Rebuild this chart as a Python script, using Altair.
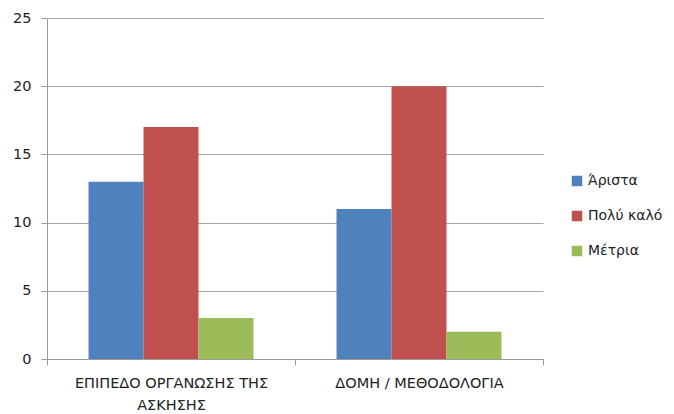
import altair as alt
import pandas as pd

categories = ["ΕΠΙΠΕΔΟ ΟΡΓΑΝΩΣΗΣ ΤΗΣ ΑΣΚΗΣΗΣ", "ΔΟΜΗ / ΜΕΘΟΔΟΛΟΓΙΑ"]
series = ["Άριστα", "Πολύ καλό", "Μέτρια"]
values = {
    "Άριστα": [13, 11],
    "Πολύ καλό": [17, 20],
    "Μέτρια": [3, 2],
}
colors = ["#4F81BD", "#C0504D", "#9BBB59"]
y_ticks = [0, 5, 10, 15, 20, 25]

rows = []
for s in series:
    for c, v in zip(categories, values[s]):
        rows.append({"cat": c, "series": s, "value": v})
df = pd.DataFrame(rows)

font = "DejaVu Sans"
label_expr = ("datum.label == 'ΕΠΙΠΕΔΟ ΟΡΓΑΝΩΣΗΣ ΤΗΣ ΑΣΚΗΣΗΣ' ? "
              "['ΕΠΙΠΕΔΟ ΟΡΓΑΝΩΣΗΣ ΤΗΣ', 'ΑΣΚΗΣΗΣ'] : datum.label")

chart = alt.Chart(df).mark_bar().encode(
    x=alt.X("cat:N", sort=categories, title=None,
            scale=alt.Scale(paddingInner=0, paddingOuter=0),
            axis=alt.Axis(labelAngle=0, labelExpr=label_expr, tickBand="extent",
                          labelFont=font, labelFontSize=14.5, labelColor="#222",
                          labelPadding=11, labelLineHeight=22, labelLimit=400,
                          domainColor="#999", tickColor="#999", tickSize=6,
                          grid=False)),
    xOffset=alt.XOffset("series:N", sort=series,
                        scale=alt.Scale(paddingInner=0, paddingOuter=0.755)),
    y=alt.Y("value:Q", title=None,
            scale=alt.Scale(domain=[0, 25], nice=False),
            axis=alt.Axis(values=y_ticks, labelFont=font, labelFontSize=14.5,
                          labelColor="#222", labelPadding=10,
                          domainColor="#999", tickColor="#999", tickSize=6,
                          gridColor="#A6A6A6", grid=True)),
    color=alt.Color("series:N", sort=series,
                    scale=alt.Scale(domain=series, range=colors),
                    legend=alt.Legend(title=None, orient="none", legendX=523, legendY=156,
                                      symbolType="square", symbolSize=110,
                                      symbolStrokeWidth=0,
                                      labelFont=font, labelFontSize=14,
                                      labelColor="#222", rowPadding=21,
                                      labelOffset=4, labelLimit=200)),
).properties(
    width=496, height=341,
    autosize=alt.AutoSizeParams(type="none"),
    padding={"left": 39, "top": 10, "right": 123, "bottom": 55},
).configure_view(stroke=None)

chart.save("out.html", embed_options={"renderer": "svg", "actions": False})
